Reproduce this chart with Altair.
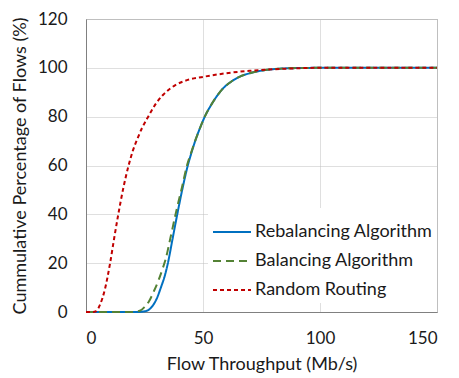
import altair as alt
import pandas as pd

series_names = ["Rebalancing Algorithm", "Balancing Algorithm", "Random Routing"]
colors = ["#0070C0", "#548235", "#C00000"]
dashes = [[1, 0], [8, 5], [4, 3]]

reb_x = [0, 22, 26, 28, 30, 32, 34, 35, 37, 39, 41, 43.5, 45, 47, 49, 51, 53, 56, 59, 62, 66, 70, 76, 82, 90, 100, 150]
reb_y = [0, 0, 0.5, 2, 5, 10, 16, 20, 30, 40, 49.5, 60, 65, 71, 76, 80.5, 84, 88.5, 92, 94.3, 96.5, 97.8, 99, 99.6, 99.9, 100, 100]

bal_x = [0, 20, 23, 25, 27, 29, 31, 33, 34, 36, 38.5, 41, 43.3, 45, 47, 49, 51, 53, 56, 59, 62, 66, 70, 76, 82, 90, 100, 150]
bal_y = [0, 0, 0.5, 2, 4.5, 8.5, 13, 18.5, 21.5, 30, 41, 51, 60.5, 65.5, 71, 76, 80.5, 84, 88.5, 92, 94.3, 96.5, 97.8, 99, 99.6, 99.9, 100, 100]

rnd_x = [0, 3, 4.3, 6, 8, 10.3, 12, 13.8, 16, 18.2, 20, 22, 24, 26, 30, 33, 38, 44, 50, 60, 70, 80, 90, 100, 150]
rnd_y = [0, 0, 0.3, 3, 9, 20, 30, 40, 51, 60, 66, 71, 75.5, 79, 85.5, 89, 92.8, 95.2, 96.3, 97.8, 98.8, 99.4, 99.8, 100, 100]

rows = []
for name, xs, ys in zip(series_names, [reb_x, bal_x, rnd_x], [reb_y, bal_y, rnd_y]):
    for x, y in zip(xs, ys):
        rows.append({"series": name, "x": x, "y": y})
df = pd.DataFrame(rows)

FONT = "Lato"
TXT = "#1a1a1a"

legend_cfg = dict(title=None, orient="none", legendX=122, legendY=189,
                  fillColor="white", symbolType="stroke", symbolSize=1444,
                  symbolStrokeWidth=2, labelFontSize=18, labelFont=FONT,
                  labelColor=TXT, rowPadding=0, padding=4, labelOffset=3,
                  labelLimit=300)

chart = alt.Chart(df).mark_line(strokeWidth=2, interpolate="monotone").encode(
    x=alt.X("x:Q", scale=alt.Scale(domain=[0, 150], nice=False),
            axis=alt.Axis(title="Flow Throughput (Mb/s)", values=[0, 50, 100, 150])),
    y=alt.Y("y:Q", scale=alt.Scale(domain=[0, 120], nice=False),
            axis=alt.Axis(title="Cummulative Percentage of Flows (%)", values=[0, 20, 40, 60, 80, 100, 120])),
    color=alt.Color("series:N", sort=series_names,
                    scale=alt.Scale(domain=series_names, range=colors),
                    legend=alt.Legend(**legend_cfg)),
    strokeDash=alt.StrokeDash("series:N", sort=series_names,
                              scale=alt.Scale(domain=series_names, range=dashes),
                              legend=alt.Legend(**legend_cfg)),
    order=alt.Order("x:Q"),
).properties(
    width=351, height=293,
    autosize=alt.AutoSizeParams(type="none"),
    padding={"left": 78, "top": 11, "right": 14, "bottom": 64},
).configure_view(
    stroke="#808080", strokeDash=[1, 1], strokeWidth=1,
).configure_axis(
    grid=True, gridColor="#BFBFBF", gridDash=[1, 1], gridWidth=1,
    domain=True, domainColor="#808080", ticks=False,
    labelFont=FONT, labelFontSize=17, labelColor=TXT,
    titleFont=FONT, titleFontSize=18, titleFontWeight="normal", titleColor=TXT,
).configure_axisX(labelPadding=18, titlePadding=9).configure_axisY(labelPadding=19, titlePadding=8)

chart.save("out.html", embed_options={"renderer": "svg", "actions": False})
